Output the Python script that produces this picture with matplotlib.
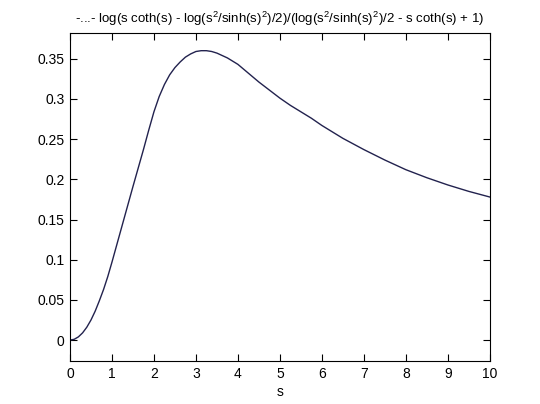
"""Recreate the ezplot-style curve chart."""
import matplotlib
matplotlib.use('Agg')
import matplotlib.pyplot as plt

plt.rcParams['font.family'] = ['Liberation Sans', 'DejaVu Sans']
plt.rcParams['mathtext.fontset'] = 'custom'
plt.rcParams['mathtext.rm'] = 'Liberation Sans'
plt.rcParams['mathtext.it'] = 'Liberation Sans'

# values
s_vals = [0, 0.1, 0.2, 0.3, 0.4, 0.5, 0.6, 0.7, 0.8, 0.9, 1.0,
          1.25, 1.5, 1.75, 1.875, 2.0, 2.125, 2.25, 2.375, 2.5, 2.625,
          2.75, 2.875, 3.0, 3.125, 3.25, 3.375, 3.5, 3.75, 4.0, 4.25,
          4.5, 4.75, 5.0, 5.25, 5.5, 5.75, 6.0, 6.5, 7.0, 7.5, 8.0, 8.5,
          9.0, 9.5, 10.0]
f_vals = [0.0, 0.001, 0.004, 0.009, 0.016, 0.025, 0.036, 0.049, 0.063,
          0.079, 0.097, 0.144, 0.191, 0.237, 0.261, 0.284, 0.303, 0.318,
          0.330, 0.339, 0.346, 0.352, 0.356, 0.359, 0.360, 0.360, 0.359,
          0.357, 0.351, 0.343, 0.332, 0.321, 0.311, 0.301, 0.292, 0.284,
          0.276, 0.267, 0.251, 0.237, 0.224, 0.212, 0.202, 0.193, 0.185,
          0.178]
x_ticks = list(range(0, 11))
y_ticks = [0, 0.05, 0.1, 0.15, 0.2, 0.25, 0.3, 0.35]
y_labels = ['0', '0.05', '0.1', '0.15', '0.2', '0.25', '0.3', '0.35']

title = (r'-...- log(s coth(s) - log(s$^2$/sinh(s)$^2$)/2)/'
         r'(log(s$^2$/sinh(s)$^2$)/2 - s coth(s) + 1)')

fig = plt.figure(figsize=(5.4, 4.04), dpi=100)
ax = fig.add_axes([0.1296, 0.1064, 0.7774, 0.8119])

ax.plot(s_vals, f_vals, color='#22224e', linewidth=1.0)

ax.set_xlim(0, 10)
ax.set_ylim(-0.026, 0.382)
ax.set_xticks(x_ticks)
ax.set_xticklabels([str(t) for t in x_ticks])
ax.set_yticks(y_ticks)
ax.set_yticklabels(y_labels)
ax.tick_params(direction='in', length=5, width=0.8, labelsize=10,
               top=True, right=True, pad=4)
for spine in ax.spines.values():
    spine.set_linewidth(0.8)

ax.set_xlabel('s', fontsize=10, labelpad=3)
ax.set_title(title, fontsize=9.5, pad=7)

fig.savefig('out.png', dpi=100, facecolor='white')
plt.close(fig)
